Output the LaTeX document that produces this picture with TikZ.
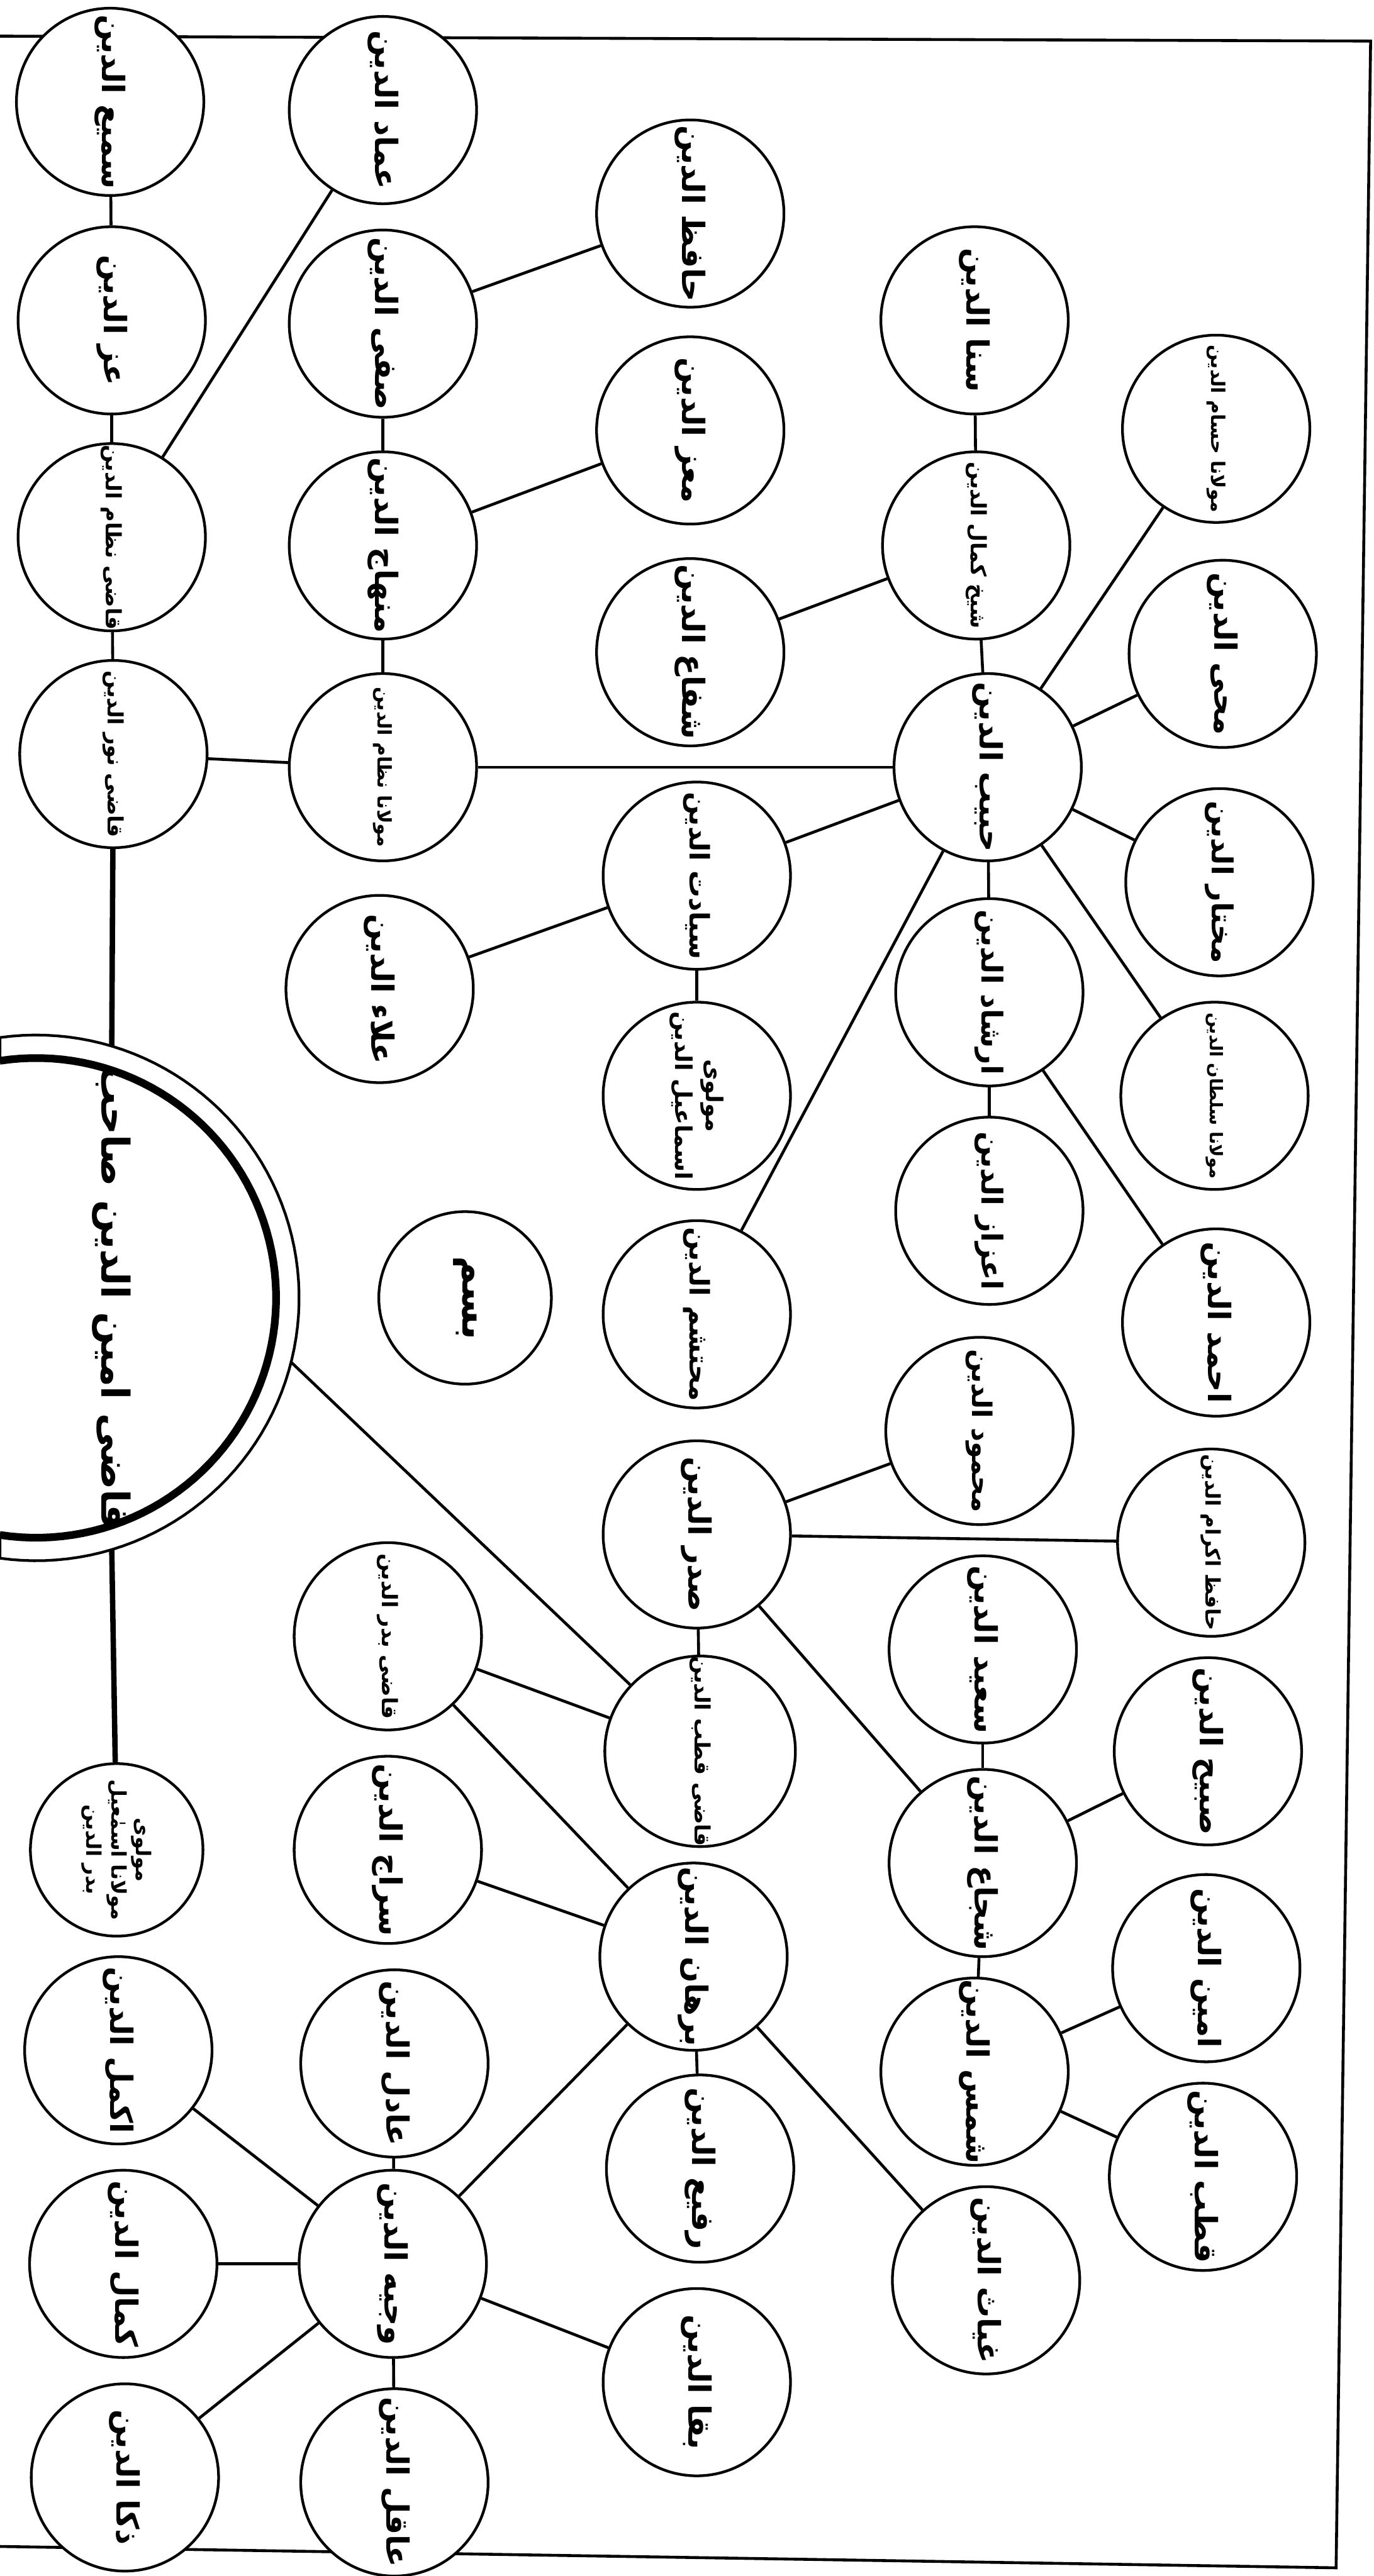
\documentclass[tikz,border=0pt]{standalone}
\usepackage{fontspec}
\newfontfamily\arabicfont[Script=Arabic]{DejaVu Sans}
\TeXXeTstate=1
\newcommand\urd[1]{\beginR #1\endR}
\tikzset{
  person/.style={circle, draw, line width=1.4pt, fill=white, minimum size=3.42cm,
    inner sep=0pt, rotate=-90, align=center,
    font=\arabicfont\bfseries\fontsize{16}{19}\selectfont},
  small person/.style={person, font=\arabicfont\bfseries\fontsize{11}{13}\selectfont},
  smaller person/.style={person, font=\arabicfont\bfseries\fontsize{9.8}{12}\selectfont},
  tiny person/.style={person, minimum size=3.15cm, font=\arabicfont\bfseries\fontsize{10.5}{13}\selectfont},
  link/.style={line width=1.5pt},
  thick link/.style={line width=2.8pt},
  frame line/.style={line width=1.5pt},
}
\begin{document}
\begin{tikzpicture}[x=0.03cm, y=-0.03cm]
\useasboundingbox (0,0) rectangle (836,1568);
% frame
\draw[frame line] (0,22) -- (834,25) -- (813,1563) -- (0,1550);
% root semicircle
\draw[line width=1.4pt, fill=white] plot[domain=-97.9:97.9, samples=80] ({22+160*cos(\x)},{790+160*sin(\x)}) -- (0,948) -- (0,934)
   plot[domain=98.7:-98.7, samples=80] ({22+146*cos(\x)},{790+146*sin(\x)}) -- (0,632);
\draw[line width=4pt] plot[domain=-98.7:98.7, samples=80] ({22+146*cos(\x)},{790+146*sin(\x)});
\node[rotate=-90, font=\arabicfont\bfseries\fontsize{20}{24}\selectfont] (rootlabel) at (68,790) {\urd{قاضی امین الدین صاحب}};
\coordinate (rtop) at (68,637);
\coordinate (rbot) at (68,943);
\coordinate (rdiag) at (177,829);

% column 1
\node[person] (sami) at (67,62) {\urd{سمیع الدین}};
\node[person] (izz) at (68,195) {\urd{عز الدین}};
\node[small person] (qnizam) at (68,327) {\urd{قاضی نظام الدین}};
\node[small person] (qnur) at (69,459) {\urd{قاضی نور الدین}};
\node[tiny person] (mbadr) at (71,1126) {\urd{مولوی}\\\urd{مولانا اسمٰعیل}\\\urd{بدر الدین}};
\node[person] (akmal) at (72,1248) {\urd{اکمل الدین}};
\node[person] (kamal) at (75,1378) {\urd{کمال الدین}};
\node[person] (zaka) at (76,1508) {\urd{ذکا الدین}};
% column 2
\node[person] (imad) at (233,67) {\urd{عماد الدین}};
\node[person] (safi) at (233,197) {\urd{صفی الدین}};
\node[person] (minhaj) at (233,332) {\urd{منهاج الدین}};
\node[smaller person] (mnizam) at (233,467) {\urd{مولانا نظام الدین}};
\node[person] (alaa) at (231,602) {\urd{علاء الدین}};
\node[person, minimum size=3.15cm, font=\arabicfont\bfseries\fontsize{20}{24}\selectfont] (bism) at (283,790) {\urd{بسم}};
\node[small person] (qbadr) at (236,996) {\urd{قاضی بدر الدین}};
\node[person] (siraj) at (236,1126) {\urd{سراج الدین}};
\node[person] (adil) at (240,1256) {\urd{عادل الدین}};
\node[person] (wajih) at (239,1378) {\urd{وجیه الدین}};
\node[person] (aqil) at (240,1511) {\urd{عاقل الدین}};
% column 3
\node[person] (hafiz) at (420,130) {\urd{حافظ الدین}};
\node[person] (muizz) at (420,262) {\urd{معز الدین}};
\node[person] (shafa) at (420,397) {\urd{شفاع الدین}};
\node[small person, font=\arabicfont\bfseries\fontsize{14}{17}\selectfont] (siyadat) at (424,533) {\urd{سیادت الدین}};
\node[person, font=\arabicfont\bfseries\fontsize{12}{16}\selectfont] (imam) at (424,667) {\urd{مولوی}\\\urd{اسماعیل الدین}};
\node[person, font=\arabicfont\bfseries\fontsize{14}{17}\selectfont] (muhtasham) at (424,800) {\urd{محتشم الدین}};
\node[person] (sadr) at (424,934) {\urd{صدر الدین}};
\node[small person] (qqutb) at (426,1066) {\urd{قاضی قطب الدین}};
\node[person] (burhan) at (422,1191) {\urd{برهان الدین}};
\node[person] (rafi) at (426,1320) {\urd{رفیع الدین}};
\node[person] (baqa) at (424,1450) {\urd{بقا الدین}};
% column 4
\node[person] (sana) at (593,195) {\urd{سنا الدین}};
\node[small person] (shaikh) at (594,332) {\urd{شیخ کمال الدین}};
\node[person] (habib) at (601,467) {\urd{حبیب الدین}};
\node[person, font=\arabicfont\bfseries\fontsize{15}{18}\selectfont] (irshad) at (602,604) {\urd{ارشاد الدین}};
\node[person, font=\arabicfont\bfseries\fontsize{15}{18}\selectfont] (izaz) at (602,737) {\urd{اعزاز الدین}};
\node[person, font=\arabicfont\bfseries\fontsize{14}{17}\selectfont] (mahmud) at (596,871) {\urd{محمود الدین}};
\node[person] (saeed) at (598,1004) {\urd{سعید الدین}};
\node[person] (shuja) at (598,1134) {\urd{شجاع الدین}};
\node[person] (shams) at (593,1261) {\urd{شمس الدین}};
\node[person] (ghiyas) at (600,1388) {\urd{غیاث الدین}};
% column 5
\node[smaller person] (mhusam) at (740,261) {\urd{مولانا حسام الدین}};
\node[person] (muhyi) at (744,398) {\urd{محی الدین}};
\node[person, font=\arabicfont\bfseries\fontsize{15}{18}\selectfont] (mukhtar) at (742,537) {\urd{مختار الدین}};
\node[smaller person, font=\arabicfont\bfseries\fontsize{9}{11}\selectfont] (msultan) at (739,667) {\urd{مولانا سلطان الدین}};
\node[person] (ahmad) at (740,805) {\urd{احمد الدین}};
\node[small person, font=\arabicfont\bfseries\fontsize{10.5}{13}\selectfont] (hakram) at (737,939) {\urd{حافظ اکرام الدین}};
\node[person] (sabih) at (735,1066) {\urd{صبیح الدین}};
\node[person] (amin) at (734,1198) {\urd{امین الدین}};
\node[person] (qutb) at (732,1325) {\urd{قطب الدین}};

% connectors
\draw[thick link] (rtop) -- (qnur);
\draw[thick link] (rbot) -- (mbadr);
\draw[link] (rdiag) -- (qqutb);
\draw[link] (sami) -- (izz);
\draw[link] (izz) -- (qnizam);
\draw[link] (qnizam) -- (imad);
\draw[link] (qnizam) -- (qnur);
\draw[link] (qnur) -- (mnizam);
\draw[link] (mnizam) -- (minhaj);
\draw[link] (minhaj) -- (safi);
\draw[link] (safi) -- (hafiz);
\draw[link] (minhaj) -- (muizz);
\draw[link] (mnizam) -- (habib);
\draw[link] (habib) -- (shaikh);
\draw[link] (shaikh) -- (sana);
\draw[link] (shaikh) -- (shafa);
\draw[link] (habib) -- (mhusam);
\draw[link] (habib) -- (muhyi);
\draw[link] (habib) -- (mukhtar);
\draw[link] (habib) -- (msultan);
\draw[link] (habib) -- (irshad);
\draw[link] (habib) -- (siyadat);
\draw[link] (habib) -- (muhtasham);
\draw[link] (irshad) -- (izaz);
\draw[link] (irshad) -- (ahmad);
\draw[link] (siyadat) -- (imam);
\draw[link] (siyadat) -- (alaa);
\draw[link] (qqutb) -- (sadr);
\draw[link] (qqutb) -- (qbadr);
\draw[link] (sadr) -- (mahmud);
\draw[link] (sadr) -- (hakram);
\draw[link] (sadr) -- (shuja);
\draw[link] (shuja) -- (saeed);
\draw[link] (shuja) -- (sabih);
\draw[link] (shuja) -- (shams);
\draw[link] (shams) -- (amin);
\draw[link] (shams) -- (qutb);
\draw[link] (qbadr) -- (burhan);
\draw[link] (siraj) -- (burhan);
\draw[link] (burhan) -- (rafi);
\draw[link] (burhan) -- (ghiyas);
\draw[link] (burhan) -- (wajih);
\draw[link] (wajih) -- (adil);
\draw[link] (wajih) -- (aqil);
\draw[link] (wajih) -- (akmal);
\draw[link] (wajih) -- (kamal);
\draw[link] (wajih) -- (zaka);
\draw[link] (wajih) -- (baqa);
\end{tikzpicture}
\end{document}
